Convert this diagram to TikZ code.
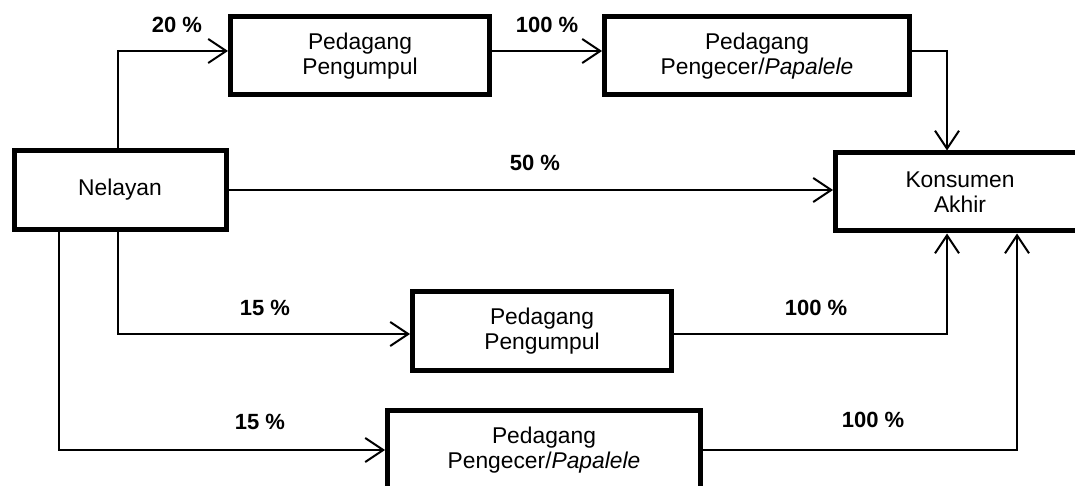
\documentclass[tikz,border=0pt]{standalone}
\usepackage{fontspec}
\setmainfont{Liberation Sans}
\usetikzlibrary{positioning,arrows.meta}

\begin{document}
\begin{tikzpicture}[
  x=1pt, y=-1pt,
  kotak/.style={rectangle, draw=black, line width=5pt, fill=white,
    align=center, font=\fontsize{22.8}{25.5}\selectfont, minimum height=79pt,
    inner sep=0pt},
  panah/.style={-{Straight Barb[length=18pt, width=24pt, line width=2pt]},
    line width=2pt},
  persen/.style={font=\fontsize{22}{24}\selectfont\bfseries, inner sep=0pt}
]
\useasboundingbox (0,0) rectangle (1075,486);
\node[kotak, minimum width=212pt] (nelayan) at (120,190) {Nelayan};
\node[kotak, minimum width=259pt, minimum height=78pt] (pp1) at (360,56) {Pedagang\\Pengumpul};
\node[kotak, minimum width=305pt, minimum height=78pt] (ppe1) at (757,56) {Pedagang\\Pengecer/\textit{Papalele}};
\node[kotak, minimum width=249pt, minimum height=78pt] (konsumen) at (960,192) {Konsumen\\Akhir};
\node[kotak, minimum width=259pt] (pp2) at (542,331) {Pedagang\\Pengumpul};
\node[kotak, minimum width=313pt] (ppe2) at (544,450) {Pedagang\\Pengecer/\textit{Papalele}};
\draw[panah] ([xshift=-2pt]nelayan.north) |- ([yshift=5pt]pp1.west);
\draw[panah] ([yshift=5pt]pp1.east) -- ([yshift=5pt]ppe1.west);
\draw[panah] ([yshift=5pt]ppe1.east) -| ([xshift=-13pt]konsumen.north);
\draw[panah] (nelayan.east) -- (nelayan.east -| konsumen.west);
\draw[panah] ([xshift=-2pt]nelayan.south) |- ([yshift=-3pt]pp2.west);
\draw[panah] ([xshift=-61pt]nelayan.south) |- (ppe2.west);
\draw[panah] ([yshift=-3pt]pp2.east) -| ([xshift=-13pt]konsumen.south);
\draw[panah] (ppe2.east) -| ([xshift=57pt]konsumen.south);
% persentase
\node[persen] (l20) at (177,25) {20 \%};
\node[persen] (l100a) at (547,25) {100 \%};
\node[persen] (l50) at (535,163) {50 \%};
\node[persen] (l15a) at (265,308) {15 \%};
\node[persen] (l100b) at (816,308) {100 \%};
\node[persen] (l15b) at (260,422) {15 \%};
\node[persen] (l100c) at (873,420) {100 \%};
\end{tikzpicture}
\end{document}
